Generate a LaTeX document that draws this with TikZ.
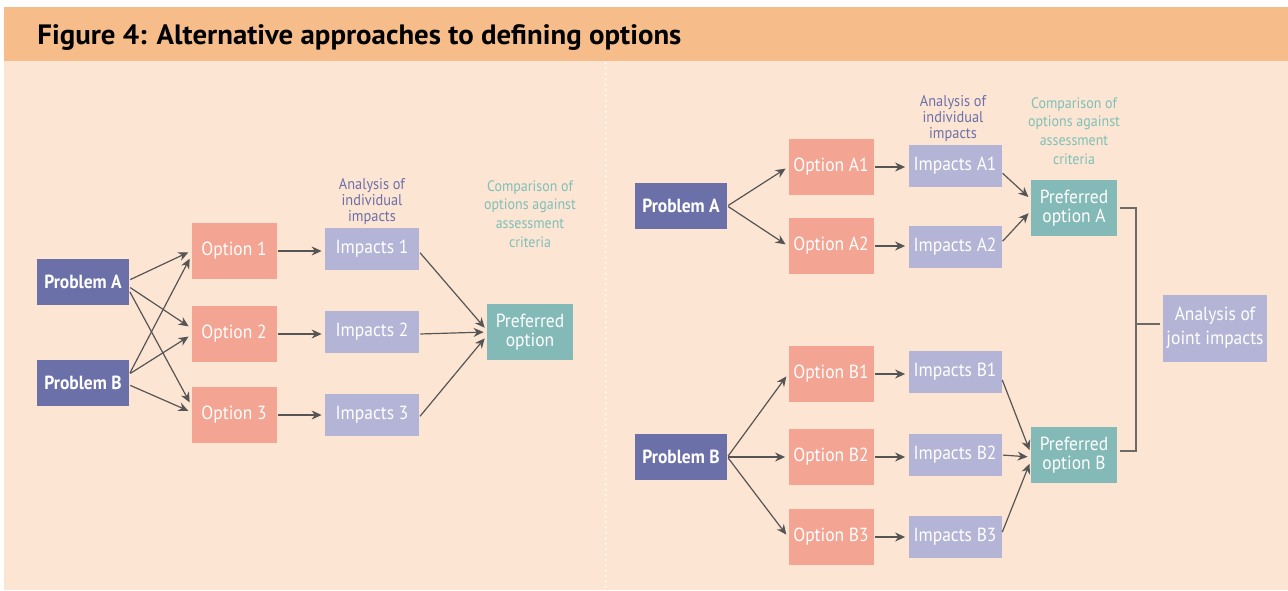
\documentclass[tikz,border=0pt]{standalone}
\usepackage{fontspec}
\setmainfont{PT Sans}[FakeStretch=0.92]
\newfontfamily\titlefont{PT Sans}[FakeStretch=1.03]
\usetikzlibrary{arrows.meta}
\definecolor{hdrorange}{HTML}{F6BD8A}
\definecolor{bodypeach}{HTML}{FDE5D3}
\definecolor{probblue}{HTML}{6B70A9}
\definecolor{optsalmon}{HTML}{F3A492}
\definecolor{implav}{HTML}{B4B4D6}
\definecolor{prefteal}{HTML}{83B9B6}
\definecolor{noteteal}{HTML}{7FC0B8}
\definecolor{arrowgrey}{HTML}{555555}
\definecolor{brackgrey}{HTML}{6E6A68}
\tikzset{
  box/.style={inner sep=0pt, align=center, text=white, font=\fontsize{9.5}{9.5}\selectfont},
  probbox/.style={box, fill=probblue, minimum width=46pt, minimum height=23pt, font=\bfseries\fontsize{9.5}{9.5}\selectfont},
  optbox/.style={box, fill=optsalmon, minimum width=42.5pt, minimum height=28pt},
  impbox/.style={box, fill=implav, minimum width=47pt, minimum height=21pt},
  prefbox/.style={box, fill=prefteal, minimum width=43pt, minimum height=28pt},
  jointbox/.style={box, fill=implav, minimum width=52pt, minimum height=33.5pt, font=\fontsize{9.5}{12}\selectfont},
  notepurple/.style={align=center, inner sep=0pt, text=probblue, font=\fontsize{7.8}{8}\selectfont},
  noteteal/.style={align=center, inner sep=0pt, text=noteteal, font=\fontsize{7.6}{9.4}\selectfont},
  arr/.style={draw=arrowgrey, line width=0.6pt, -{Stealth[length=5pt,width=4.5pt]}, shorten <=0.5pt, shorten >=1.5pt},
  bracket/.style={draw=brackgrey, line width=0.7pt}
}
\begin{document}
\begin{tikzpicture}[x=0.5pt,y=-0.5pt]
\useasboundingbox (0,0) rectangle (1288,590);
\fill[white] (0,0) rectangle (1288,590);
\fill[hdrorange] (4,7) rectangle (1288,61);
\fill[bodypeach] (4,61) rectangle (1288,590);
\draw[white, line width=1pt, line cap=round, dash pattern=on 0pt off 2.7pt] (605.7,63) -- (605.7,590);
\node[anchor=base west, inner sep=0pt, font=\titlefont\bfseries\fontsize{14}{15}\selectfont] (title) at (37,44) {Figure 4: Alternative approaches to defining options};

% left: problems linked to every option
\node[probbox] (pa) at (83,282) {Problem A};
\node[probbox] (pb) at (83,383) {Problem B};
\foreach \n/\yo/\yi in {1/251/249,2/334/332,3/415/415}
{
    \node[optbox] (o\n) at (234,\yo) {Option \n};
    \node[impbox] (i\n) at (372,\yi) {Impacts \n};
    \draw[arr] (o\n.east) -- (o\n.east -| i\n.west);
}
\node[prefbox] (pref) at (530,332) {Preferred\\option};
\node[notepurple] (anl) at (372,202) {Analysis of\\individual\\impacts};
\node[noteteal] (cmpl) at (530,214) {Comparison of\\options against\\assessment\\criteria};
\foreach \p/\o/\s/\e in {pa/o1/1/0, pa/o2/-2.5/3, pa/o3/-4.5/5, pb/o1/4.5/-2.5, pb/o2/4.5/-0.5, pb/o3/-1/1.5}
{
    \draw[arr] ([yshift=\s pt]\p.east) -- ([yshift=\e pt]\o.west);
}
\foreach \i/\s/\e in {i1/-1.5/1, i2/-1/0, i3/-1/-2}
{
    \draw[arr] ([yshift=\s pt]\i.east) -- ([yshift=\e pt]pref.west);
}

% right: one set of options per problem
\node[probbox] (rpa) at (681,206) {Problem A};
\node[probbox] (rpb) at (681,457) {Problem B};
\node[notepurple] (anr) at (953,119) {Analysis of\\individual\\impacts};
\node[noteteal] (cmpr) at (1074,131) {Comparison of\\options against\\assessment\\criteria};
\foreach \n/\yo/\yi in {A1/167/166,A2/246/247,B1/374/372,B2/457/455,B3/537/537}
{
    \node[optbox] (o\n) at (831,\yo) {Option \n};
    \node[impbox, minimum width=46.5pt] (i\n) at (955,\yi) {Impacts \n};
    \draw[arr] (o\n.east) -- (o\n.east -| i\n.west);
}
\node[prefbox] (prefA) at (1074,208) {Preferred\\option A};
\node[prefbox] (prefB) at (1074,455) {Preferred\\option B};
\node[jointbox] (joint) at (1215,328) {Analysis of\\joint impacts};
\foreach \p/\o in {rpa/oA1, rpa/oA2, rpb/oB1, rpb/oB2, rpb/oB3}
{
    \draw[arr] (\p.east) -- (\o.west);
}
\foreach \i/\q/\s/\e in {iA1/prefA/-3.3/4.5, iA2/prefA/2.5/-1.5, iB1/prefB/-3.5/1, iB2/prefB/0/-1, iB3/prefB/2/-3}
{
    \draw[arr] ([yshift=\s pt]\i.east) -- ([yshift=\e pt]\q.west);
}
\coordinate (jn) at (1136,324);
\draw[bracket] ([xshift=1.5pt]prefA.east) -| (jn) |- ([xshift=1.5pt,yshift=2pt]prefB.east);
\draw[bracket] (jn) -- ([xshift=-1.5pt]joint.west |- jn);
\end{tikzpicture}
\end{document}
